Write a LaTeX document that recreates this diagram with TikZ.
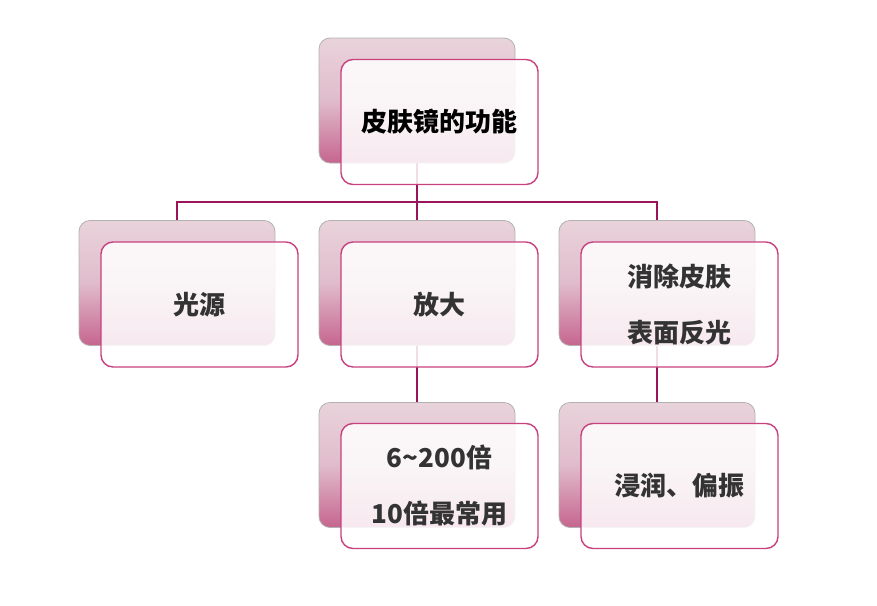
\documentclass[tikz,border=0pt]{standalone}
\usepackage{fontspec}
\setmainfont{Noto Sans CJK SC}
\begin{document}
\begin{tikzpicture}[x=1pt,y=-1pt,
  backbox/.style={draw=black!30,line width=0.8pt,rounded corners=11pt,
    minimum width=196pt,minimum height=125pt,inner sep=0pt,
    top color=backtop,bottom color=backbot,middle color=backmid},
  frontbox/.style={draw=frontline,line width=1.4pt,rounded corners=12pt,
    fill=white,fill opacity=0.86,text opacity=1,
    minimum width=197pt,minimum height=125pt,inner sep=0pt,
    align=center,text=textgrey,font=\bfseries\fontsize{26}{56}\selectfont},
  link/.style={draw=linkc,line width=2.6pt}]
\definecolor{backtop}{HTML}{E9D3DB}
\definecolor{backmid}{HTML}{E0BCCB}
\definecolor{backbot}{HTML}{C6658F}
\definecolor{frontline}{HTML}{C8417F}
\definecolor{linkc}{HTML}{9A1457}
\definecolor{textgrey}{HTML}{333333}
\useasboundingbox (0,0) rectangle (877,605);
% back boxes
\node[backbox] (tb) at (417,100.5) {};
\node[backbox] (lb) at (177,283) {};
\node[backbox] (mb) at (417,283) {};
\node[backbox] (rb) at (657,283) {};
\node[backbox] (mmb) at (417,465) {};
\node[backbox] (rrb) at (657,465) {};
% connectors
\coordinate (j) at (417,202);
\draw[link] (tb.south) -- (mb.north);
\draw[link] (lb.north) |- (j) -| (rb.north);
\draw[link] (mb.south) -- (mmb.north);
\draw[link] (rb.south) -- (rrb.north);
% front boxes
\node[frontbox,text=black] (t) at (439.5,122) {皮肤镜的功能};
\node[frontbox] (l) at (199.5,304.5) {光源};
\node[frontbox] (m) at (439.5,304.5) {放大};
\node[frontbox] (r) at (679.5,304.5) {消除皮肤\\表面反光};
\node[frontbox] (mm) at (439.5,486) {6\textasciitilde200倍\\10倍最常用};
\node[frontbox] (rr) at (679.5,486) {浸润、偏振};
\end{tikzpicture}
\end{document}
